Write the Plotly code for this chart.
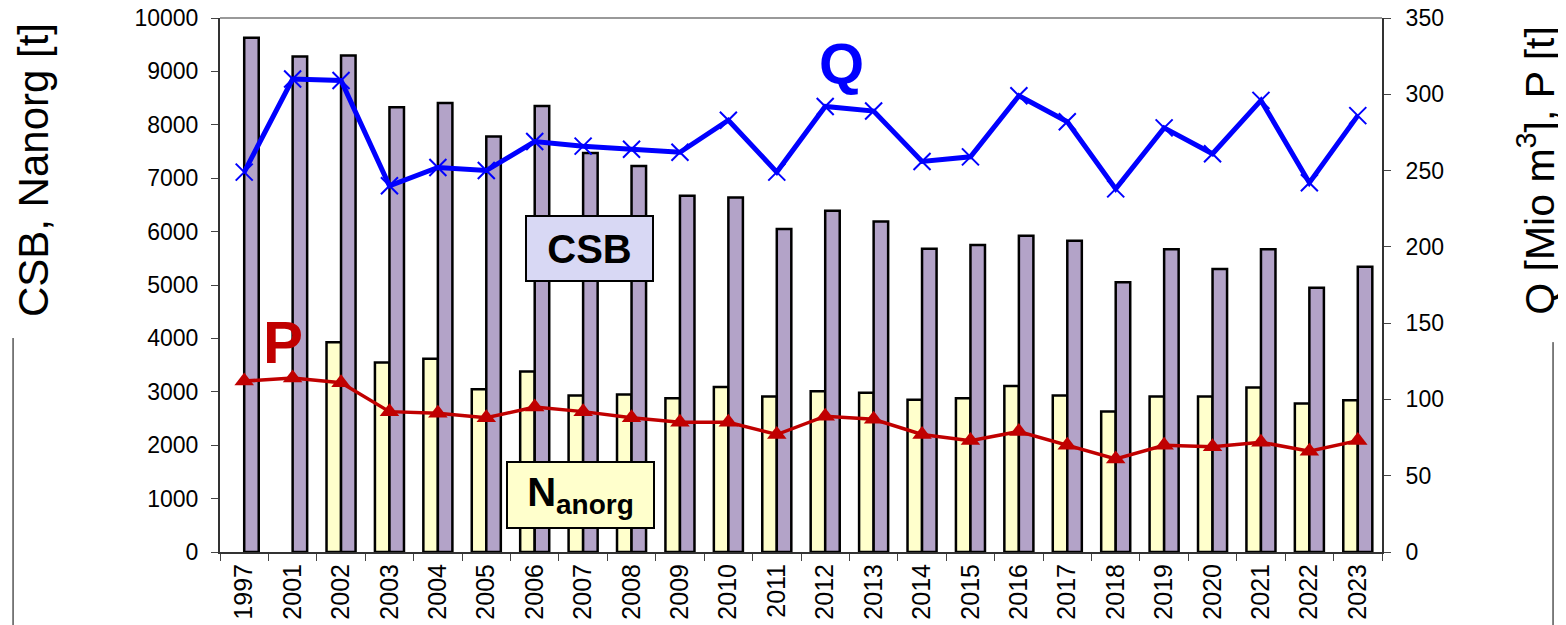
import plotly.graph_objects as go

# Jahre (Kategorien)
years = ["1997", "2001", "2002", "2003", "2004", "2005", "2006", "2007", "2008",
         "2009", "2010", "2011", "2012", "2013", "2014", "2015", "2016", "2017",
         "2018", "2019", "2020", "2021", "2022", "2023"]

# Frachten [t], linke Achse
csb = [9630, 9280, 9300, 8330, 8410, 7780, 8350, 7470, 7230,
       6670, 6640, 6050, 6390, 6190, 5680, 5750, 5920, 5830,
       5050, 5670, 5300, 5670, 4950, 5340]
nanorg = [None, None, 3930, 3550, 3620, 3050, 3380, 2930, 2950,
          2880, 3090, 2910, 3010, 2980, 2850, 2880, 3110, 2930,
          2630, 2910, 2910, 3080, 2780, 2840]

# Abfluss Q [Mio m3] und P [t], rechte Achse
q = [249, 310, 309, 240, 252, 250, 269, 266, 264,
     262, 283, 249, 292, 289, 256, 259, 299, 282,
     238, 278, 261, 296, 242, 286]
p = [112, 114, 111, 92, 91, 88, 95, 92, 88,
     85, 85, 77, 89, 87, 77, 73, 79, 70,
     61, 70, 69, 72, 66, 73]

font = "Liberation Sans, Arial, sans-serif"

fig = go.Figure()

fig.add_trace(go.Bar(x=years, y=nanorg, name="Nanorg",
                     marker=dict(color="#ffffcc", line=dict(color="black", width=2.5))))
fig.add_trace(go.Bar(x=years, y=csb, name="CSB",
                     marker=dict(color="#b3a3c8", line=dict(color="black", width=2.5))))
fig.add_trace(go.Scatter(x=years, y=q, name="Q", yaxis="y2", mode="lines+markers",
                         line=dict(color="#0000ff", width=5),
                         marker=dict(symbol="x-thin", size=17,
                                     line=dict(color="#0000ff", width=2))))
fig.add_trace(go.Scatter(x=years, y=p, name="P", yaxis="y2", mode="lines+markers",
                         line=dict(color="#c00000", width=3.5),
                         marker=dict(symbol="triangle-up", size=17, color="#c00000")))

# body hat 8px Rand -> Figur etwas kleiner, damit keine Scrollbalken entstehen
fig.update_layout(
    width=1558,
    height=617,
    margin=dict(l=212, r=184, t=10, b=73),
    plot_bgcolor="white",
    paper_bgcolor="white",
    showlegend=False,
    barmode="group",
    bargap=0.4,
    bargroupgap=0,
    font=dict(family=font, size=23, color="black"),
    xaxis=dict(
        type="category",
        range=[-0.5, len(years) - 0.5],
        tickson="boundaries",
        ticks="outside",
        ticklen=7,
        tickangle=-90,
        showline=True,
        linecolor="#333",
        linewidth=2,
        showgrid=False,
        automargin=False,
        ticklabeloverflow="allow",
        tickfont=dict(size=25),
    ),
    yaxis=dict(
        range=[0, 10000],
        dtick=1000,
        tickformat="d",
        ticks="outside",
        ticklen=7,
        ticklabelstandoff=8,
        showline=True,
        linecolor="#333",
        linewidth=2,
        showgrid=False,
        zeroline=False,
        automargin=False,
        ticklabeloverflow="allow",
        tickfont=dict(size=23),
    ),
    yaxis2=dict(
        range=[0, 350],
        dtick=50,
        overlaying="y",
        side="right",
        ticks="outside",
        ticklen=7,
        ticklabelstandoff=10,
        showline=True,
        linecolor="#333",
        linewidth=2,
        showgrid=False,
        zeroline=False,
        automargin=False,
        ticklabeloverflow="allow",
        tickfont=dict(size=23),
    ),
)

# obere Rahmenlinie und die beiden senkrechten Striche am Rand
fig.add_shape(type="line", xref="paper", yref="paper", x0=0, x1=1, y0=1, y1=1,
              line=dict(color="#999", width=2))
fig.add_shape(type="line", xref="paper", yref="paper", x0=-0.1781, x1=-0.1781,
              y0=0.4007, y1=-0.16, line=dict(color="black", width=1))
fig.add_shape(type="line", xref="paper", yref="paper", x0=1.1472, x1=1.1472,
              y0=0.393, y1=-0.16, line=dict(color="black", width=1))


def label(text, x, y, size, color="black", **kw):
    fig.add_annotation(text=text, xref="paper", yref="paper", x=x, y=y,
                       xanchor="center", yanchor="middle", showarrow=False,
                       font=dict(size=size, color=color), **kw)


# Achsentitel
label("CSB, Nanorg [t]", -0.161, 0.715, 42, textangle=-90)
label("Q [Mio m<sup>3</sup>], P [t]", 1.133, 0.715, 41, textangle=-90)

# Beschriftungen im Diagramm
label("<b>Q</b>", 0.535, 0.914, 58, "#0000ff")
label("<b>P</b>", 0.054, 0.393, 60, "#c00000")
label("<b>CSB</b>", 0.3184, 0.5684, 40, width=125, height=63,
      bgcolor="#d8d8f4", bordercolor="black", borderwidth=2, borderpad=0)
label("<b>N<sub>anorg</sub></b>", 0.3102, 0.1067, 40, width=145, height=64,
      bgcolor="#ffffcc", bordercolor="black", borderwidth=2, borderpad=0)

fig.write_html("out.html")
